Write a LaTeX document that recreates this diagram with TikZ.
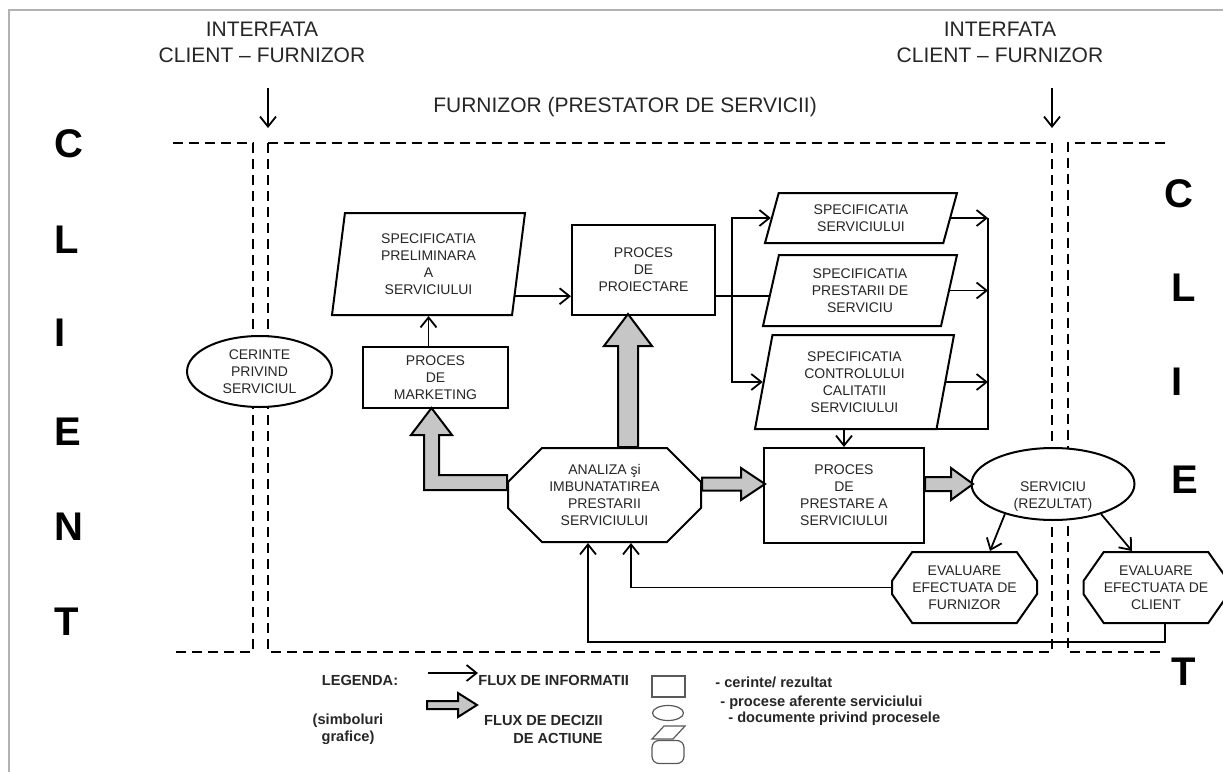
\documentclass[tikz,border=0pt]{standalone}
\usepackage{fontspec}
\setmainfont{Liberation Sans}
\usetikzlibrary{arrows.meta,shapes.geometric,shapes.misc,calc}

\begin{document}
\begin{tikzpicture}[x=0.5pt,y=-0.5pt,
    txt/.style={font=\fontsize{7}{8.5}\selectfont, text=black!85, align=center, inner sep=0pt},
    hd/.style={font=\fontsize{10.5}{13}\selectfont, text=black!85, align=center, inner sep=0pt},
    big/.style={font=\fontsize{20}{24}\selectfont\bfseries, anchor=west, inner sep=0pt},
    leg/.style={font=\fontsize{7.3}{8.7}\selectfont\bfseries, text=black!85, inner sep=0pt},
    box/.style={txt, draw, line width=1pt, fill=white},
    proc/.style={box, rectangle},
    doc/.style={box, trapezium, trapezium stretches body},
    oct/.style={box, chamfered rectangle},
    info/.style={line width=0.9pt, -{Straight Barb[length=5pt, width=8pt]}},
    flux/.style={draw, line width=1pt, fill=gray!45, line join=miter},
    bord/.style={line width=1pt, dash pattern=on 5pt off 3pt},
    lgs/.style={draw=black!65, line width=0.6pt, inner sep=0pt}]
        \useasboundingbox (0,0) rectangle (1223,772);
        \draw [gray!60, line width=1pt] (9,772) -- (9,10) -- (1223,10);
        % titles
        \node [hd] (if1) at (262,42) {INTERFATA\\CLIENT – FURNIZOR};
        \node [hd] (if2) at (1000,42) {INTERFATA\\CLIENT – FURNIZOR};
        \node [hd] (furn) at (625,107) {FURNIZOR (PRESTATOR DE SERVICII)};
        \foreach \l/\y in {C/144, L/240, I/333, E/432, N/527, T/622}
            \node [big] (cs-\l) at (54,\y) {\l};
        \foreach \l/\x/\y in {C/1164/194, L/1171/288, I/1171/382, E/1171/480, T/1171/672}
            \node [big] (cd-\l) at (\x,\y) {\l};
        % zone limits
        \draw [bord] (173,143) -- (253,143) -- (253,652) -- (173,652);
        \draw [bord] (268,143) rectangle (1052,652);
        \draw [bord] (1165,143) -- (1068,143) -- (1068,652) -- (1165,652);
        \coordinate (t1) at (268,128);
        \coordinate (t2) at (1052,128);
        \draw [info, shorten <=12.75pt] (if1.south -| t1) -- (t1);
        \draw [info, shorten <=12.75pt] (if2.south -| t2) -- (t2);
        % boxes
        \node [doc, trapezium left angle=78, trapezium right angle=102, minimum width=96.5pt, minimum height=51pt] (prel) at (428.5,264) {SPECIFICATIA\\PRELIMINARA\\A\\SERVICIULUI};
        \node [proc, minimum width=72.5pt, minimum height=30.5pt] (mark) at (435.5,377.5) {PROCES\\DE\\MARKETING};
        \node [proc, minimum width=71.5pt, minimum height=45pt] (proi) at (643.5,270) {PROCES\\DE\\PROIECTARE};
        \node [doc, trapezium left angle=63, trapezium right angle=117, minimum width=96pt, minimum height=25pt] (ss) at (861,218) {SPECIFICATIA\\SERVICIULUI};
        \node [doc, trapezium left angle=70, trapezium right angle=110, minimum width=97pt, minimum height=35.5pt] (sp) at (860,290.5) {SPECIFICATIA\\PRESTARII DE\\SERVICIU};
        \node [doc, trapezium left angle=74, trapezium right angle=106, minimum width=99.5pt, minimum height=47pt] (sc) at (854.5,382) {SPECIFICATIA\\CONTROLULUI\\CALITATII\\SERVICIULUI};
        \node [oct, chamfered rectangle xsep=13.5pt, minimum width=96.5pt, minimum height=47pt] (ana) at (604.5,495) {ANALIZA şi\\IMBUNATATIREA\\PRESTARII\\SERVICIULUI};
        \node [proc, minimum width=80pt, minimum height=47.5pt] (pres) at (844,495.5) {PROCES\\DE\\PRESTARE A\\SERVICIULUI};
        \node [box, ellipse, minimum width=72.5pt, minimum height=35.5pt] (cer) at (259.5,371.5) {CERINTE\\PRIVIND\\SERVICIUL};
        \node [box, ellipse, minimum width=81.5pt, minimum height=36pt, label={[txt, yshift=-6.5pt]center:SERVICIU\\(REZULTAT)}] (serv) at (1053,484) {};
        \node [oct, chamfered rectangle angle=35, chamfered rectangle xsep=13pt, minimum width=72.5pt, minimum height=35.5pt] (evf) at (964.5,587.5) {EVALUARE\\EFECTUATA DE\\FURNIZOR};
        \node [oct, chamfered rectangle angle=35, chamfered rectangle xsep=13pt, minimum width=72.5pt, minimum height=35.5pt] (evc) at (1156,587.5) {EVALUARE\\EFECTUATA DE\\CLIENT};
        % information flow
        \draw [info] (mark.north -| prel.south) -- (prel.south);
        \coordinate (p1) at ($(prel.bottom right corner)!.19!(prel.top right corner)$);
        \draw [info] (p1) -- (proi.west |- p1);
        \coordinate (j) at (732,296);
        \draw [line width=0.9pt] (proi.east |- j) -- (sp.west |- j);
        \draw [info] (j) |- (ss.west);
        \draw [info] (j) |- (sc.west);
        \coordinate (k) at (988,429);
        \draw [info] (ss.east) -- (ss.east -| k);
        \draw [info] (sp.east) -- (sp.east -| k);
        \draw [info] (sc.east) -- (sc.east -| k);
        \draw [info] (ss.east -| k) -- (k) -- (pres.north |- k) -- (pres.north);
        \draw [info] (serv.212) -- ($(evf.north)+(25.5,0)$);
        \draw [info] (serv.328) -- ($(evc.north)+(-24,0)$);
        \draw [info] (evf.west) -| ($(ana.south)+(26.5,0)$);
        \coordinate (fb) at (588,642);
        \draw [info] ($(evc.south)+(9,0)$) |- (fb) -- (ana.south -| fb);
        % decision flow
        \draw [flux] ($(ana.north)+(13.5,0)$) -- ++(0,-101) -- ++(-14,0) -- ++(24,-32) -- ++(24,32) -- ++(-14,0) -- ++(0,101) -- cycle;
        \draw [flux] ($(ana.east)+(0,-17.5)$) -- ++(39,0) -- ++(0,-9.5) -- ++(24,16) -- ++(-24,16) -- ++(0,-9.5) -- ++(-39,0) -- cycle;
        \draw [flux] ($(pres.east)+(0,-18.5)$) -- ++(26,0) -- ++(0,-9) -- ++(22,16) -- ++(-22,16) -- ++(0,-9) -- ++(-26,0) -- cycle;
        \draw [flux] ($(ana.west)+(0,-20)$) -- ++(-68,0) -- ++(0,-40) -- ++(13,0) -- ++(-20.5,-27) -- ++(-20.5,27) -- ++(13,0) -- ++(0,55) -- ++(83,0) -- cycle;
        % legend
        \node [leg] (lgd) at (360,680) {LEGENDA:};
        \node [leg, align=center] (sim) at (348,729) {(simboluri\\grafice)};
        \coordinate (l1) at (428,673);
        \node [leg, anchor=west] (fi) at (478,680) {FLUX DE INFORMATII};
        \draw [info] (l1) -- (l1 -| fi.west);
        \coordinate (l2) at (427,705);
        \draw [flux] ($(l2)+(0,-4)$) -- ++(31,0) -- ++(0,-8) -- ++(19,12) -- ++(-19,12) -- ++(0,-8) -- ++(-31,0) -- cycle;
        \node [leg, align=right, anchor=north east] (fd) at (603,715) {FLUX DE DECIZII\\DE ACTIUNE};
        \node [lgs, rectangle, minimum width=16.5pt, minimum height=10.5pt] (lg1) at (668.5,686.5) {};
        \node [lgs, ellipse, minimum width=15.5pt, minimum height=7.5pt] (lg2) at (668,713) {};
        \draw [lgs] (652,739) -- (664,726) -- (685,726) -- (673,739) -- cycle;
        \node [lgs, rectangle, rounded corners=3.5pt, minimum width=16pt, minimum height=11.5pt] (lg4) at (668,752) {};
        \node [leg, anchor=west] (ce) at (715,682) {- cerinte/ rezultat};
        \node [leg, anchor=west] (pa) at (720,703) {- procese aferente serviciului};
        \node [leg, anchor=west] (dp) at (728,719) {- documente privind procesele};
\end{tikzpicture}
\end{document}
